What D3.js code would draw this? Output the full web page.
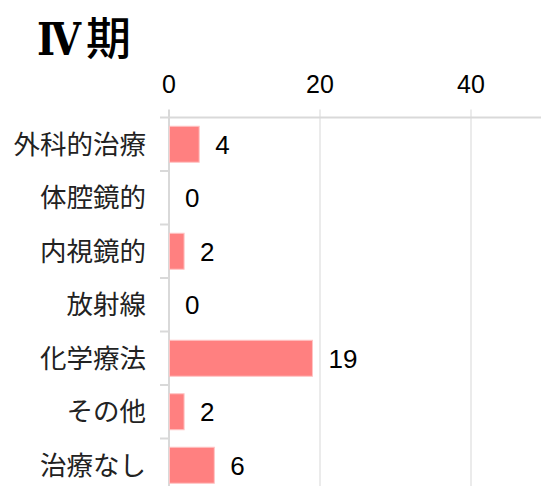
<!DOCTYPE html>
<html>
<head>
<meta charset="utf-8">
<script src="https://cdn.jsdelivr.net/npm/d3@7"></script>
<style>
  body { margin: 0; background: #fff; }
  svg { display: block; }
</style>
</head>
<body>
<div id="chart"></div>
<script>
// Data
const titleParts = ["Ⅳ", "期"];
const categories = ["外科的治療", "体腔鏡的", "内視鏡的", "放射線", "化学療法", "その他", "治療なし"];
const values = [4, 0, 2, 0, 19, 2, 6];
const tickValues = [0, 20, 40];

function createChart() {
  const width = 541, height = 486;
  const left = 169, top = 117.5;
  const step = 53.5;

  const svg = d3.select("#chart")
    .append("svg")
    .attr("width", width)
    .attr("height", height);

  // Scales
  const x = d3.scaleLinear()
    .domain([0, 50])
    .range([left, left + 50 * 7.55]);

  const pad = 0.327;
  const y = d3.scaleBand()
    .domain(categories)
    .range([top, top + step * categories.length])
    .paddingInner(pad)
    .paddingOuter(pad / 2);

  // Title (numeral in a slab serif, kanji in sans)
  const title = svg.append("text")
    .attr("y", 55)
    .attr("fill", "#000");
  title.append("tspan")
    .attr("x", 37)
    .attr("font-family", "'DejaVu Serif', serif")
    .attr("font-weight", "bold")
    .attr("font-size", 45)
    .attr("textLength", 44)
    .attr("lengthAdjust", "spacingAndGlyphs")
    .text(titleParts[0]);
  title.append("tspan")
    .attr("x", 86)
    .attr("font-family", "'Noto Sans CJK JP', sans-serif")
    .attr("font-weight", 500)
    .attr("font-size", 45)
    .text(titleParts[1]);

  // Gridlines
  svg.selectAll(".grid")
    .data(tickValues)
    .enter().append("line")
    .attr("class", "grid")
    .attr("x1", d => x(d))
    .attr("x2", d => x(d))
    .attr("y1", top - 8)
    .attr("y2", height)
    .attr("stroke", d => d === 0 ? "#d9d9d9" : "#ebebeb")
    .attr("stroke-width", 2);

  // Top axis line
  svg.append("line")
    .attr("x1", left - 9)
    .attr("x2", width)
    .attr("y1", top)
    .attr("y2", top)
    .attr("stroke", "#d9d9d9")
    .attr("stroke-width", 2);

  // Tick labels
  svg.selectAll(".tick-label")
    .data(tickValues)
    .enter().append("text")
    .attr("class", "tick-label")
    .attr("x", d => x(d))
    .attr("y", 93)
    .attr("text-anchor", "middle")
    .attr("font-family", "Arial, 'Liberation Sans', sans-serif")
    .attr("font-size", 25)
    .attr("fill", "#000")
    .text(d => d);

  // Category boundary ticks
  const bounds = d3.range(categories.length + 1).map(i => top + i * y.step());
  svg.selectAll(".ytick")
    .data(bounds.slice(1))
    .enter().append("line")
    .attr("class", "ytick")
    .attr("x1", left - 9)
    .attr("x2", left)
    .attr("y1", d => d)
    .attr("y2", d => d)
    .attr("stroke", "#d9d9d9")
    .attr("stroke-width", 2);

  // Bars
  svg.selectAll(".bar")
    .data(values)
    .enter().append("rect")
    .attr("class", "bar")
    .attr("x", x(0) + 0.5)
    .attr("y", (d, i) => y(categories[i]))
    .attr("width", d => Math.max(0, x(d) - x(0) - 0.5))
    .attr("height", y.bandwidth())
    .attr("fill", "#ff8080")
    .attr("stroke", "#ffc4c4")
    .attr("stroke-width", d => d > 0 ? 1 : 0);

  // Category labels
  svg.selectAll(".cat")
    .data(categories)
    .enter().append("text")
    .attr("class", "cat")
    .attr("x", left - 23)
    .attr("y", d => y(d) + y.bandwidth() / 2)
    .attr("dy", "0.36em")
    .attr("text-anchor", "end")
    .attr("font-family", "'Noto Sans CJK JP', sans-serif")
    .attr("font-size", 26.5)
    .attr("fill", "#222")
    .text(d => d);

  // Value labels
  svg.selectAll(".val")
    .data(values)
    .enter().append("text")
    .attr("class", "val")
    .attr("x", d => x(d) + 16)
    .attr("y", (d, i) => y(categories[i]) + y.bandwidth() / 2)
    .attr("dy", "0.36em")
    .attr("text-anchor", "start")
    .attr("font-family", "Arial, 'Liberation Sans', sans-serif")
    .attr("font-size", 26)
    .attr("fill", "#000")
    .text(d => d);
}

document.addEventListener('DOMContentLoaded', createChart);
</script>
</body>
</html>
